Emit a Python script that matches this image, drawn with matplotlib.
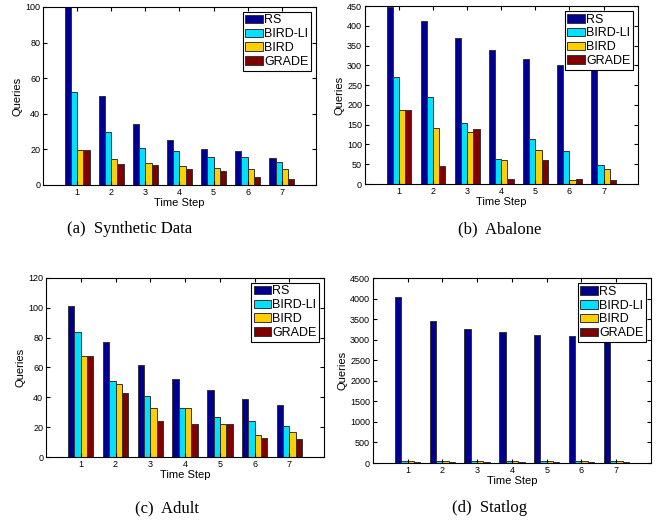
import numpy as np
import matplotlib
matplotlib.use("Agg")
import matplotlib.pyplot as plt

plt.rcParams['font.family'] = ['Liberation Sans', 'DejaVu Sans']

# Data
steps = [1, 2, 3, 4, 5, 6, 7]
methods = ['RS', 'BIRD-LI', 'BIRD', 'GRADE']

synthetic_rs = [100, 50, 34, 25, 20, 19, 15]
synthetic_birdli = [52, 30, 21, 19, 16, 16, 13]
synthetic_bird = [19.6, 14.6, 12.1, 10.5, 9.5, 8.8, 8.8]
synthetic_grade = [19.6, 11.6, 11, 9, 8, 4.7, 3.2]

abalone_rs = [448, 413, 370, 338, 316, 301, 291]
abalone_birdli = [271, 221, 154, 62, 114, 84, 47]
abalone_bird = [186, 142, 132, 61, 86, 11, 37]
abalone_grade = [186, 45, 138, 13, 60, 13, 11]

adult_rs = [101, 77, 62, 52, 45, 39, 35]
adult_birdli = [84, 51, 41, 33, 27, 24, 21]
adult_bird = [68, 49, 33, 33, 22, 15, 17]
adult_grade = [68, 43, 24, 22, 22, 13, 12]

statlog_rs = [4036, 3466, 3271, 3181, 3125, 3084, 3060]
statlog_birdli = [55, 55, 40, 40, 40, 40, 40]
statlog_bird = [40, 40, 40, 40, 40, 40, 40]
statlog_grade = [35, 30, 30, 30, 30, 30, 30]

colors = ['#000090', '#00E0FF', '#FFD000', '#800000']

# (series, axes rect, ymax, ystep, caption, caption x/y in pixels)
panels = [
    ([synthetic_rs, synthetic_birdli, synthetic_bird, synthetic_grade],
     [0.0645, 0.6456, 0.409, 0.341], 100, 20, '(a)  Synthetic Data', 130, 229),
    ([abalone_rs, abalone_birdli, abalone_bird, abalone_grade],
     [0.547, 0.6475, 0.409, 0.341], 450, 50, '(b)  Abalone', 500, 229),
    ([adult_rs, adult_birdli, adult_bird, adult_grade],
     [0.069, 0.1245, 0.417, 0.343], 120, 20, '(c)  Adult', 167, 508),
    ([statlog_rs, statlog_birdli, statlog_bird, statlog_grade],
     [0.559, 0.113, 0.417, 0.354], 4500, 500, '(d)  Statlog', 490, 508),
]

fig = plt.figure(figsize=(6.67, 5.22), dpi=100)
x = np.array(steps)
w = 0.182

for series, pos, ymax, ystep, caption, cx, cy in panels:
    ax = fig.add_axes(pos)
    for i, vals in enumerate(series):
        ax.bar(x + (i - 1.5) * w, vals, width=w, color=colors[i],
               edgecolor='#333333', linewidth=0.7, label=methods[i])
    ax.set_xlim(0, 8)
    ax.set_ylim(0, ymax)
    ax.set_xticks(steps)
    ax.set_yticks(np.arange(0, ymax + 1, ystep))
    ax.tick_params(direction='in', length=3, labelsize=6.5, top=True, right=True, pad=2)
    ax.set_xlabel('Time Step', fontsize=8, labelpad=1)
    ax.set_ylabel('Queries', fontsize=8, labelpad=2)
    for s in ax.spines.values():
        s.set_linewidth(0.8)
    leg = ax.legend(loc='upper right', fontsize=9, fancybox=False, edgecolor='black',
                    framealpha=1, borderpad=0.2, labelspacing=0.15, handlelength=1.4,
                    handleheight=0.7, handletextpad=0.1, borderaxespad=0.4)
    leg.get_frame().set_linewidth(0.8)
    fig.text(cx / 667, 1 - cy / 522, caption, ha='center', va='center',
             fontsize=12, family=['Liberation Serif', 'DejaVu Serif'])

fig.savefig('out.png', dpi=100)
